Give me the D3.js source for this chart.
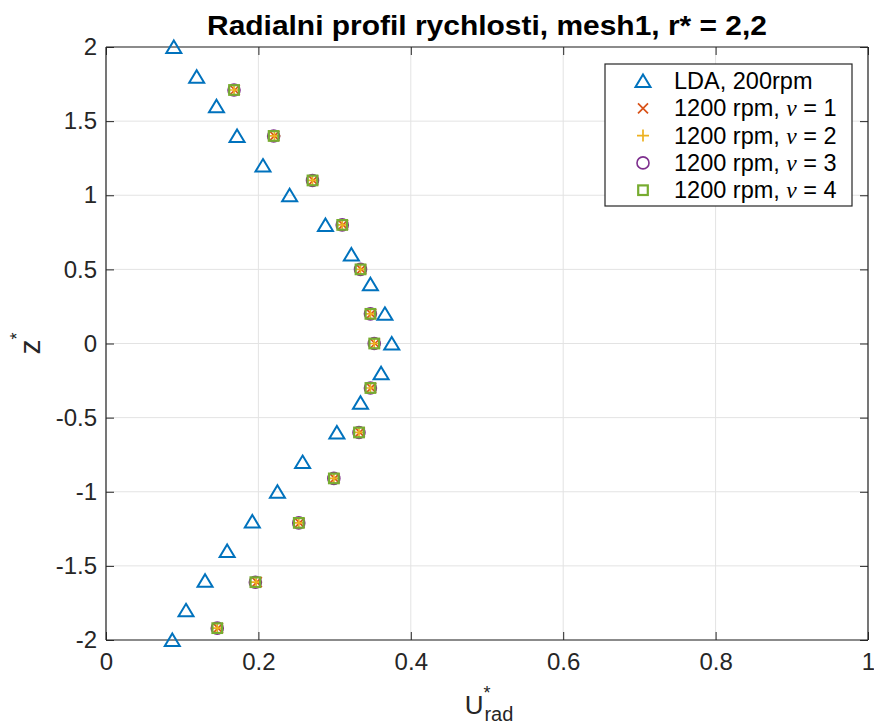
<!DOCTYPE html>
<html>
<head>
<meta charset="utf-8">
<script src="https://cdn.jsdelivr.net/npm/d3@7"></script>
<style>
  html, body { margin: 0; padding: 0; background: #fff; }
  svg { display: block; font-family: "Liberation Sans", Arial, Helvetica, sans-serif; }
</style>
</head>
<body>
<svg id="chart" width="874" height="725"></svg>
<script>
// Tick values
const xTicks = [0, 0.2, 0.4, 0.6, 0.8, 1];
const yTicks = [-2, -1.5, -1, -0.5, 0, 0.5, 1, 1.5, 2];

// LDA measurement, 200 rpm
const zLDA = [2, 1.8, 1.6, 1.4, 1.2, 1.0, 0.8, 0.6, 0.4, 0.2, 0, -0.2, -0.4, -0.6, -0.8, -1.0, -1.2, -1.4, -1.6, -1.8, -2];
const uLDA = [0.089, 0.119, 0.145, 0.172, 0.206, 0.241, 0.288, 0.322, 0.347, 0.366, 0.375, 0.361, 0.334, 0.303, 0.258, 0.225, 0.192, 0.159, 0.130, 0.105, 0.087];

// Simulation, 1200 rpm, four viscosity settings
const zSim = [1.71, 1.40, 1.10, 0.80, 0.50, 0.20, 0.00, -0.30, -0.60, -0.91, -1.21, -1.61, -1.92];
const uNu1 = [0.169, 0.221, 0.272, 0.311, 0.335, 0.348, 0.353, 0.348, 0.333, 0.300, 0.254, 0.198, 0.147];
const uNu2 = [0.168, 0.221, 0.271, 0.310, 0.334, 0.347, 0.352, 0.347, 0.332, 0.299, 0.253, 0.197, 0.146];
const uNu3 = [0.168, 0.220, 0.271, 0.310, 0.334, 0.347, 0.352, 0.347, 0.332, 0.299, 0.253, 0.196, 0.146];
const uNu4 = [0.168, 0.220, 0.271, 0.310, 0.334, 0.347, 0.352, 0.347, 0.332, 0.299, 0.253, 0.196, 0.146];

const seriesLabels = ["LDA, 200rpm", "1200 rpm, ", "1200 rpm, ", "1200 rpm, ", "1200 rpm, "];
const nuValues = [null, 1, 2, 3, 4];

const colors = {
  lda: "#0072BD", nu1: "#D95319", nu2: "#EDB120", nu3: "#7E2F8E", nu4: "#77AC30"
};
const axisColor = "#262626";

const svg = d3.select("#chart");
const L = 106, R = 868, T = 47, B = 640;
const x = d3.scaleLinear().domain([0, 1]).range([L, R]);
const y = d3.scaleLinear().domain([-2, 2]).range([B, T]);

// Grid
const grid = svg.append("g");
grid.selectAll("line.gx").data(xTicks).join("line")
  .attr("x1", d => x(d)).attr("x2", d => x(d)).attr("y1", T).attr("y2", B)
  .attr("stroke", "#e3e3e3").attr("stroke-width", 1);
grid.selectAll("line.gy").data(yTicks).join("line")
  .attr("x1", L).attr("x2", R).attr("y1", d => y(d)).attr("y2", d => y(d))
  .attr("stroke", "#e3e3e3").attr("stroke-width", 1);

// Axes (ticks pointing inward on all four sides)
const tickLen = 8;
const fmt = d => String(d);
const axB = svg.append("g").attr("transform", `translate(0,${B})`)
  .call(d3.axisBottom(x).tickValues(xTicks).tickSize(-tickLen).tickPadding(13).tickFormat(fmt));
const axT = svg.append("g").attr("transform", `translate(0,${T})`)
  .call(d3.axisTop(x).tickValues(xTicks).tickSize(-tickLen).tickFormat(""));
const axLft = svg.append("g").attr("transform", `translate(${L},0)`)
  .call(d3.axisLeft(y).tickValues(yTicks).tickSize(-tickLen).tickPadding(9).tickFormat(fmt));
const axRgt = svg.append("g").attr("transform", `translate(${R},0)`)
  .call(d3.axisRight(y).tickValues(yTicks).tickSize(-tickLen).tickFormat(""));
[axB, axT, axLft, axRgt].forEach(g => {
  g.select(".domain").attr("stroke", axisColor).attr("stroke-width", 1.2);
  g.selectAll(".tick line").attr("stroke", axisColor).attr("stroke-width", 1);
  g.selectAll(".tick text").attr("fill", axisColor).attr("font-size", 24)
    .attr("font-family", "Liberation Sans, Arial, sans-serif");
});
axB.select(".domain").attr("d", `M${L},0H${R}`);
axT.select(".domain").attr("d", `M${L},0H${R}`);
axLft.select(".domain").attr("d", `M0,${T}V${B}`);
axRgt.select(".domain").attr("d", `M0,${T}V${B}`);

// Marker shapes
function triangle(g, cx, cy, color) {
  g.append("path")
    .attr("d", `M${cx},${cy - 6.5}L${cx + 7.5},${cy + 6}L${cx - 7.5},${cy + 6}Z`)
    .attr("fill", "none").attr("stroke", color).attr("stroke-width", 2).attr("stroke-linejoin", "miter");
}
function cross(g, cx, cy, color) {
  const s = 5;
  g.append("path")
    .attr("d", `M${cx - s},${cy - s}L${cx + s},${cy + s}M${cx - s},${cy + s}L${cx + s},${cy - s}`)
    .attr("stroke", color).attr("stroke-width", 1.7).attr("fill", "none");
}
function plus(g, cx, cy, color) {
  const s = 6;
  g.append("path")
    .attr("d", `M${cx - s},${cy}L${cx + s},${cy}M${cx},${cy - s}L${cx},${cy + s}`)
    .attr("stroke", color).attr("stroke-width", 1.7).attr("fill", "none");
}
function circle(g, cx, cy, color) {
  g.append("circle").attr("cx", cx).attr("cy", cy).attr("r", 6)
    .attr("fill", "none").attr("stroke", color).attr("stroke-width", 1.6);
}
function square(g, cx, cy, color) {
  const s = 4.8;
  g.append("rect").attr("x", cx - s).attr("y", cy - s).attr("width", 2 * s).attr("height", 2 * s)
    .attr("fill", "none").attr("stroke", color).attr("stroke-width", 2.2);
}

// Data marks
const marks = svg.append("g");
zLDA.forEach((z, i) => triangle(marks, x(uLDA[i]), y(z), colors.lda));
zSim.forEach((z, i) => cross(marks, x(uNu1[i]), y(z), colors.nu1));
zSim.forEach((z, i) => plus(marks, x(uNu2[i]), y(z), colors.nu2));
zSim.forEach((z, i) => circle(marks, x(uNu3[i]), y(z), colors.nu3));
zSim.forEach((z, i) => square(marks, x(uNu4[i]), y(z), colors.nu4));

// Title
svg.append("text")
  .attr("x", (L + R) / 2).attr("y", 35)
  .attr("text-anchor", "middle")
  .attr("font-size", 28).attr("font-weight", "bold").attr("fill", "#000")
  .attr("textLength", 560).attr("lengthAdjust", "spacingAndGlyphs")
  .text("Radialni profil rychlosti, mesh1, r* = 2,2");

// X axis label: U*_rad
const xl = svg.append("text")
  .attr("x", (L + R) / 2 + 2).attr("y", 714)
  .attr("text-anchor", "middle").attr("font-size", 26).attr("fill", axisColor);
xl.append("tspan").text("U");
xl.append("tspan").attr("font-size", 18).attr("dy", -15).text("*");
xl.append("tspan").attr("font-size", 20).attr("dx", -6).attr("dy", 22).text("rad");

// Y axis label: z*
const yl = svg.append("text")
  .attr("transform", `translate(40,${(T + B) / 2}) rotate(-90)`)
  .attr("text-anchor", "middle").attr("font-size", 30).attr("fill", axisColor);
yl.append("tspan").text("z");
yl.append("tspan").attr("font-size", 18).attr("dy", -17).text("*");

// Legend
const lg = svg.append("g");
const lgX = 605, lgY = 64, lgW = 247, lgH = 142;
lg.append("rect").attr("x", lgX).attr("y", lgY).attr("width", lgW).attr("height", lgH)
  .attr("fill", "#fff").attr("stroke", axisColor).attr("stroke-width", 1.2);
const markerFns = [triangle, cross, plus, circle, square];
const markerCols = [colors.lda, colors.nu1, colors.nu2, colors.nu3, colors.nu4];
seriesLabels.forEach((lab, i) => {
  const cy = 81 + i * 27.3;
  markerFns[i](lg, 643, cy, markerCols[i]);
  const t = lg.append("text").attr("x", 674).attr("y", cy + 8)
    .attr("font-size", 23.5).attr("fill", "#000");
  t.append("tspan").text(lab);
  if (nuValues[i] !== null) {
    t.append("tspan").attr("font-family", "Liberation Serif, serif").attr("font-style", "italic").text("ν");
    t.append("tspan").text(" = " + nuValues[i]);
  }
});
</script>
</body>
</html>
